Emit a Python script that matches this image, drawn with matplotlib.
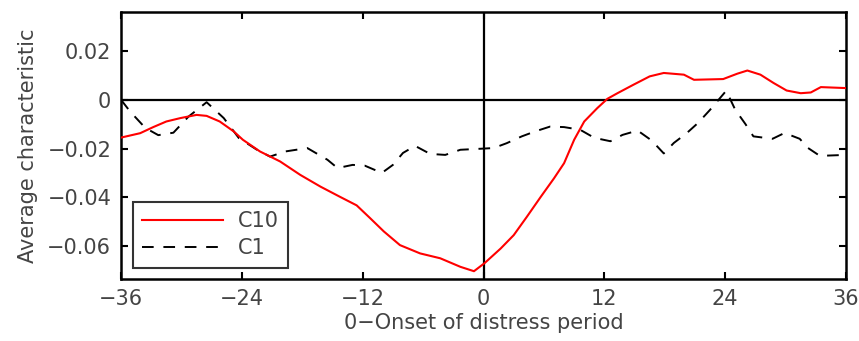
import matplotlib.pyplot as plt
import numpy as np

plt.rcParams['font.family'] = ['DejaVu Sans']

# C10 curve (smooth)
c10_x = [-36, -34.1, -32.8, -31.5, -30.1, -28.5, -27.5, -26.2, -24.8, -23.9, -22.2, -20.2,
         -18.2, -16.2, -14.3, -12.6, -11.3, -9.9, -8.3, -6.3, -4.3, -2.3, -0.95, 0.1, 1.7,
         3.0, 4.3, 5.7, 7.0, 8.0, 9.0, 10.0, 11.3, 12.3, 13.3, 14.9, 16.5, 17.9, 19.9, 20.9,
         23.8, 25.2, 26.2, 27.5, 28.8, 30.1, 31.5, 32.5, 33.5, 36]
c10_y = [-0.0155, -0.0137, -0.0112, -0.0089, -0.0075, -0.0062, -0.0066, -0.0089, -0.013,
         -0.0164, -0.0212, -0.0253, -0.0308, -0.0356, -0.0397, -0.0433, -0.0484, -0.054,
         -0.0596, -0.063, -0.065, -0.0685, -0.0703, -0.067, -0.061, -0.0555, -0.048, -0.0397,
         -0.0322, -0.026, -0.0164, -0.0089, -0.0034, 0.0004, 0.0027, 0.0062, 0.0096, 0.011,
         0.0103, 0.0082, 0.0085, 0.0107, 0.012, 0.0103, 0.0069, 0.0038, 0.0027, 0.003,
         0.0052, 0.0048]

# C1 curve (noisy)
c1_x = [-36, -35.1, -33.6, -32.3, -30.8, -29.3, -27.5, -25.8, -24.3, -22.5, -21.2, -19.7,
        -17.5, -15.5, -14.5, -13, -11.8, -10.1, -9, -8, -6.8, -5.3, -3.8, -2.3, 1, 2.3, 3.8,
        5.1, 6.6, 8, 9.6, 11, 12.6, 13.8, 15.3, 16.7, 17.9, 18.9, 20.2, 21.3, 22.5, 24.1, 25,
        26, 26.8, 28.7, 29.9, 31.4, 32.2, 33.4, 36]
c1_y = [0.0, -0.0048, -0.0115, -0.0145, -0.0135, -0.0069, -0.001, -0.0075, -0.0157, -0.0205,
        -0.0233, -0.0212, -0.0198, -0.0246, -0.028, -0.0267, -0.027, -0.030, -0.0267, -0.0218,
        -0.0189, -0.0222, -0.0226, -0.0205, -0.0198, -0.0178, -0.015, -0.013, -0.011, -0.0112,
        -0.0123, -0.0156, -0.017, -0.0144, -0.0126, -0.0167, -0.022, -0.0177, -0.0136,
        -0.0095, -0.0041, 0.0037, -0.0041, -0.0099, -0.015, -0.016, -0.0136, -0.016, -0.0197,
        -0.023, -0.0226]

xticks = [-36, -24, -12, 0, 12, 24, 36]
yticks = [-0.06, -0.04, -0.02, 0, 0.02]
yticklabels = ['\u22120.06', '\u22120.04', '\u22120.02', '0', '0.02']
xticklabels = ['\u221236', '\u221224', '\u221212', '0', '12', '24', '36']

fig = plt.figure(figsize=(8.59, 3.41), dpi=100)
ax = fig.add_axes([0.1409, 0.1818, 0.844, 0.783])

ax.axhline(0, color='black', linewidth=1.6, zorder=1)
ax.axvline(0, color='black', linewidth=1.6, zorder=1)

ax.plot(c10_x, c10_y, color='red', linewidth=1.5, label='C10', zorder=3)
ax.plot(c1_x, c1_y, color='black', linewidth=1.4, dashes=(6, 5), label='C1', zorder=2)

ax.set_xlim(-36, 36)
ax.set_ylim(-0.0735, 0.036)
ax.set_xticks(xticks)
ax.set_xticklabels(xticklabels)
ax.set_yticks(yticks)
ax.set_yticklabels(yticklabels)
ax.tick_params(direction='in', top=True, right=True, length=5, width=1.5,
               labelsize=15, labelcolor='#444444', pad=7)

for s in ax.spines.values():
    s.set_linewidth(1.8)

ax.set_xlabel('0\u2212Onset of distress period', fontsize=15, color='#444444', labelpad=3)
ax.set_ylabel('Average characteristic', fontsize=15, color='#444444', labelpad=7)

leg = ax.legend(loc='lower left', bbox_to_anchor=(0.016, 0.042), fontsize=15,
                frameon=True, fancybox=False, edgecolor='black', handlelength=3.9,
                borderpad=0.45, labelspacing=0.35, handletextpad=0.7, borderaxespad=0)
leg.get_frame().set_linewidth(1.5)
for t in leg.get_texts():
    t.set_color('#444444')

fig.savefig('out.png', dpi=100)
